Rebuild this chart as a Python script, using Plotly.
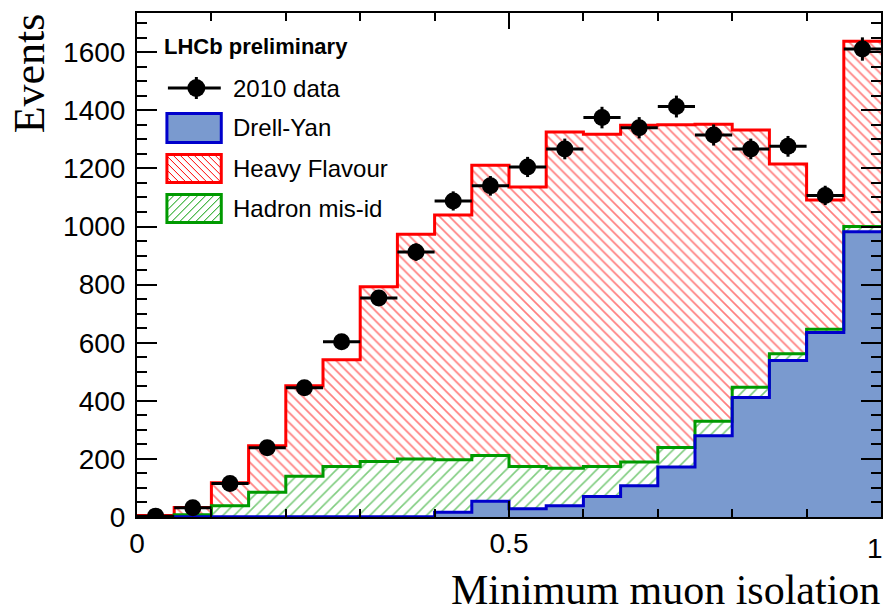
import numpy as np
import plotly.graph_objects as go

# ---------------- data ----------------
bin_edges = [round(0.05 * i, 2) for i in range(21)]
bin_centers = [round(0.025 + 0.05 * i, 3) for i in range(20)]

data_2010 = [3, 32, 115, 238, 445, 603, 754, 912, 1088, 1140,
             1205, 1267, 1375, 1340, 1413, 1315, 1267, 1276, 1107, 1611]
drell_yan = [0, 1, 1, 1, 1, 1, 1, 1, 16, 54,
             28, 39, 71, 108, 172, 280, 411, 539, 635, 982]
hadron_misid = [0, 7, 38, 84, 139, 173, 190, 199, 181, 158,
                146, 129, 103, 81, 67, 50, 36, 23, 11, 18]
heavy_flavour = [5, 25, 79, 160, 312, 367, 602, 773, 843, 999,
                 962, 1157, 1144, 1160, 1111, 1022, 885, 653, 445, 638]

x_ticks = [0, 0.5, 1]
x_tick_labels = ["0", "0.5", "1"]
y_ticks = [0, 200, 400, 600, 800, 1000, 1200, 1400, 1600]
y_tick_labels = [str(v) for v in y_ticks]

# ---------------- styles ----------------
BLUE_FILL = "#7a9acf"
BLUE_LINE = "#0000cc"
RED = "#ff0000"
GREEN = "#009a00"

W, H = 888, 615
L, R, T, B = 137, 5, 13, 98
PW, PH = W - L - R, H - T - B


def px(x):
    return (x - L) / PW


def py(y):
    return (H - B - y) / PH


fig = go.Figure()

bar_w = [0.05] * len(bin_centers)
fig.add_trace(go.Bar(x=bin_centers, y=drell_yan, width=bar_w,
                     marker=dict(color=BLUE_FILL, line=dict(width=0)),
                     showlegend=False, hoverinfo="skip"))
fig.add_trace(go.Bar(x=bin_centers, y=hadron_misid, width=bar_w,
                     marker=dict(color="white", line=dict(width=0),
                                 pattern=dict(shape="/", fgcolor=GREEN, bgcolor="white",
                                              size=8, solidity=0.2)),
                     showlegend=False, hoverinfo="skip"))
fig.add_trace(go.Bar(x=bin_centers, y=heavy_flavour, width=bar_w,
                     marker=dict(color="white", line=dict(width=0),
                                 pattern=dict(shape="\\", fgcolor=RED, bgcolor="white",
                                              size=7, solidity=0.24)),
                     showlegend=False, hoverinfo="skip"))

cum_dy = np.array(drell_yan)
cum_had = cum_dy + np.array(hadron_misid)
cum_hf = cum_had + np.array(heavy_flavour)

for tops, col in [(cum_hf, RED), (cum_had, GREEN), (cum_dy, BLUE_LINE)]:
    yy = list(tops) + [tops[-1]]
    fig.add_trace(go.Scatter(x=bin_edges, y=yy, mode="lines",
                             line=dict(shape="hv", color=col, width=3),
                             showlegend=False, hoverinfo="skip"))

fig.add_trace(go.Scatter(
    x=bin_centers, y=data_2010, mode="markers",
    marker=dict(color="black", size=17),
    error_x=dict(type="constant", value=0.025, width=0, thickness=3, color="black"),
    error_y=dict(type="data", array=list(np.sqrt(data_2010)), width=0, thickness=3, color="black"),
    showlegend=False, hoverinfo="skip"))

# ---------------- legend (drawn manually, ROOT style) ----------------
shapes = []
annotations = []
leg_font = dict(family="Liberation Sans, Arial, sans-serif", size=24, color="black")
annotations.append(dict(text="<b>LHCb preliminary</b>", x=px(162), y=py(47), xref="paper", yref="paper",
                        xanchor="left", yanchor="middle", showarrow=False,
                        font=dict(family="Liberation Sans, Arial, sans-serif", size=22, color="black")))

# data entry
shapes.append(dict(type="line", xref="paper", yref="paper", x0=px(168), x1=px(221), y0=py(88), y1=py(88),
                   line=dict(color="black", width=3)))
shapes.append(dict(type="line", xref="paper", yref="paper", x0=px(196.5), x1=px(196.5), y0=py(77), y1=py(99),
                   line=dict(color="black", width=3)))
shapes.append(dict(type="circle", xref="paper", yref="paper", x0=px(187.5), x1=px(205.5), y0=py(79), y1=py(97),
                   fillcolor="black", line=dict(color="black", width=0)))

bx0, bx1 = 167, 221.5
boxes = [(113.5, 142.5), (154.5, 182.5), (194.5, 222.5)]
# Drell-Yan
shapes.append(dict(type="rect", xref="paper", yref="paper", x0=px(bx0), x1=px(bx1),
                   y0=py(boxes[0][0]), y1=py(boxes[0][1]), fillcolor=BLUE_FILL,
                   line=dict(color=BLUE_LINE, width=3)))


def hatch(x0, x1, y0, y1, spacing, direction, color):
    segs = []
    if direction == "back":  # '\' : y - x = c (screen coords)
        c = y0 - x1
        while c < y1 - x0:
            xa = max(x0, y0 - c)
            xb = min(x1, y1 - c)
            if xb > xa:
                segs.append((xa, xa + c, xb, xb + c))
            c += spacing
    else:  # '/' : x + y = c
        c = x0 + y0
        while c < x1 + y1:
            xa = max(x0, c - y1)
            xb = min(x1, c - y0)
            if xb > xa:
                segs.append((xa, c - xa, xb, c - xb))
            c += spacing
    out = []
    for (xa, ya, xb, yb) in segs:
        out.append(dict(type="line", xref="paper", yref="paper", x0=px(xa), y0=py(ya), x1=px(xb), y1=py(yb),
                        line=dict(color=color, width=1)))
    return out


shapes += hatch(bx0, bx1, boxes[1][0], boxes[1][1], 7, "back", RED)
shapes.append(dict(type="rect", xref="paper", yref="paper", x0=px(bx0), x1=px(bx1),
                   y0=py(boxes[1][0]), y1=py(boxes[1][1]), line=dict(color=RED, width=3)))
shapes += hatch(bx0, bx1, boxes[2][0], boxes[2][1], 8, "fwd", GREEN)
shapes.append(dict(type="rect", xref="paper", yref="paper", x0=px(bx0), x1=px(bx1),
                   y0=py(boxes[2][0]), y1=py(boxes[2][1]), line=dict(color=GREEN, width=3)))

labels = [("2010 data", 88), ("Drell-Yan", 128), ("Heavy Flavour", 168), ("Hadron mis-id", 208.5)]
for txt, yy in labels:
    annotations.append(dict(text=txt, x=px(231), y=py(yy), xref="paper", yref="paper",
                            xanchor="left", yanchor="middle", showarrow=False, font=leg_font))

tick_font = dict(family="Liberation Sans, Arial, sans-serif", size=28, color="black")

# last x tick label (kept inside the page, as in the reference)
annotations.append(dict(text=x_tick_labels[-1], x=px(877), y=py(548), xref="paper", yref="paper",
                        xanchor="center", yanchor="middle", showarrow=False, font=tick_font))

# axis titles
serif = "Liberation Serif, DejaVu Serif, serif"
annotations.append(dict(text="Minimum muon isolation", x=px(884), y=py(590), xref="paper", yref="paper",
                        xanchor="right", yanchor="middle", showarrow=False,
                        font=dict(family=serif, size=42, color="black")))
annotations.append(dict(text="Events", x=px(29), y=py(11), xref="paper", yref="paper", textangle=-90,
                        xanchor="center", yanchor="top", showarrow=False,
                        font=dict(family=serif, size=44, color="black")))

fig.update_layout(
    width=W, height=H,
    margin=dict(l=L, r=R, t=T, b=B, pad=0),
    paper_bgcolor="white", plot_bgcolor="white",
    barmode="stack", bargap=0, bargroupgap=0,
    shapes=shapes, annotations=annotations,
    showlegend=False,
    xaxis=dict(range=[0, 1], tickvals=x_ticks, ticktext=x_tick_labels[:-1] + [""], ticks="inside", ticklen=16,
               tickwidth=2, tickcolor="black", showline=True, linecolor="black", linewidth=2,
               mirror="allticks", showgrid=False, zeroline=False, tickfont=tick_font,
               minor=dict(dtick=0.1, ticklen=8, tickwidth=2, tickcolor="black", ticks="inside", showgrid=False)),
    yaxis=dict(range=[0, 1735], tickvals=y_ticks, ticktext=y_tick_labels, ticks="inside", ticklen=20,
               tickwidth=2, tickcolor="black", showline=True, linecolor="black", linewidth=2,
               mirror="allticks", showgrid=False, zeroline=False, tickfont=tick_font,
               ticklabelstandoff=4,
               minor=dict(dtick=50, ticklen=10, tickwidth=2, tickcolor="black", ticks="inside", showgrid=False)),
)

fig.write_html("out.html", config={"displayModeBar": False},
               post_script="document.body.style.margin='0';document.body.style.overflow='hidden';")
